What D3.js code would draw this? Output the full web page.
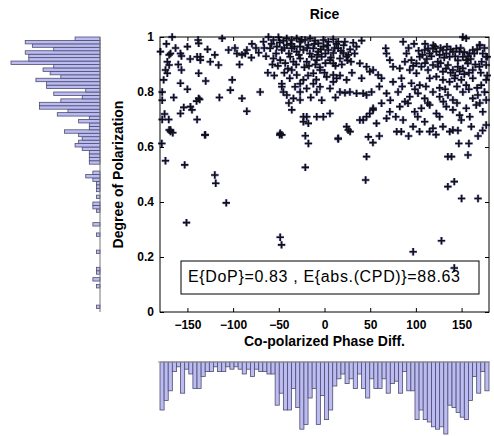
<!DOCTYPE html>
<html>
<head>
<meta charset="utf-8">
<script src="https://cdn.jsdelivr.net/npm/d3@7"></script>
<style>
body { margin: 0; background: #fff; }
text { font-family: Arial, "Liberation Sans", sans-serif; }
</style>
</head>
<body>
<div id="figure-container"></div>
<script>
var xTicks = [-150, -100, -50, 0, 50, 100, 150];
var yTicks = [0, 0.2, 0.4, 0.6, 0.8, 1];

// 80 bins of co-polarized phase difference, -180..180
var phaseCounts = [20,16,12,4,2,13,3,5,11,11, 6,4,4,2,4,4,2,3,2,3,
  5,3,6,3,4,4,5,5,18,13, 20,20,11,19,28,26,15,11,26,14,
  24,20,10,7,5,9,7,11,5,11, 15,7,11,11,7,13,9,8,13,4,
  12,12,24,20,24,25,27,28,27,30, 18,19,21,23,24,16,6,13,4,12];

// 80 bins of degree of polarization, 0..1
var dopCounts = [0,1,0,0,0,0,0,1,0,2, 0,1,1,0,0,0,0,1,0,0,
  0,0,1,0,0,2,0,0,0,1, 2,2,0,1,0,1,1,1,2,4,
  2,0,0,3,3,3,3,5,7,6, 5,6,10,3,3,6,3,12,9,17,
  17,11,5,13,4,15,15,18,11,14, 16,13,25,20,20,21,13,19,21,7];

// [phase diff (deg), DoP]
var ricePoints = [
  [-179.5,.947],[-173,.975],[-170,.935],[-168.5,.94],[-172,.91],[-170,.898],[-174,.88],[-172,.868],
  [-176,.844],[-177.6,.80],[-177.6,.77],[-177.6,.70],[-170.4,.70],[-170,.662],[-168.5,.662],[-166.7,1.0],
  [-157.6,.94],[-156.5,.931],[-156.5,.88],[-157.6,.832],[-157.6,.722],[-154,.744],[-146.7,.747],[-145,.735],
  [-140,.767],[-137.7,.777],[-136.6,.773],[-139.4,.70],[-138.3,.989],[-137.7,.977],[-139.4,.928],[-135.8,.928],
  [-135.8,.916],[-137.7,.868],[-130.4,.644],[-125,.91],[-115.9,.898],[-112,.995],[-105,.953],[-101,.844],
  [-103,.807],[-90.3,.777],[-95.8,.94],[-90.3,.935],[-86.7,.94],[-84.9,.953],[-79.4,.975],[-70.4,.80],
  [-66.8,.983],[-72,.943],
  [-163,.96],[-160,.90],[-150,.965],[-147,.92],[-128,.955],[-120,.935],[-98,.96],[-93,.90],[-80,.925],
  [-75,.96],[-165,.78],[-150,.81],[-130,.84],[-115,.78],[-85,.73],[-175,.72],
  [-178,.613],[-174,.55],[-168.5,.656],[-166,.652],[-153,.535],[-151,.325],[-131,.644],[-120,.498],
  [-119,.468],[-107.5,.397],[-49,.644],[-48.5,.272],[-47,.244],[-21,.641],[-21,.526],[-17.6,.613],
  [15,.629],[28,.656],[46,.565],[48,.637],[45,.48],[53,.616],[79,.656],[84,.656],[97,.219],[104,.656],
  [115,.656],[128,.259],[135,.456],[135,.565],[139,.565],[137,.656],[142,.474],[147,.613],[150,.413],
  [157,.571],[158,.613],[168,.413],[146,.66],[173,.66],[142,.16],
  [-61.3,1.0],[-55.9,.989],[-50.4,.999],[-45,.987],[-41.3,.995],[-35.8,.989],[-30.4,.995],[-26.7,.983],
  [-21.3,.989],[-15.8,.995],[-10.4,.987],[-6.7,.977],[-1.3,.989],[4.1,.983],[9.5,.992],[15,.983],
  [22.3,.983],[31.4,.979],
  [-59.5,.959],[-52.1,.965],[-46.7,.953],[-41.2,.971],[-35.8,.959],[-30.4,.947],[-26.7,.965],[-23.1,.953],
  [-17.7,.971],[-12.2,.959],[-6.8,.947],[-1.3,.965],[4.1,.953],[9.6,.942],[15,.959],[20.5,.942],[26,.935],
  [-55.9,.922],[-48.5,.916],[-37.6,.928],[-34,.91],[-26.7,.922],[-19.4,.91],[-14,.928],[-8.5,.916],
  [-3.1,.928],[6,.916],[9.6,.904],[16.9,.922],[24.2,.928],
  [-58,.975],[-53,.94],[-49,.98],[-44,.96],[-39,.94],[-37,.975],[-33,.965],[-28,.935],[-25,.99],
  [-19,.96],[-16,.94],[-11,.975],[-8,.935],[-4,.955],[1,.94],[3,.97],[7,.925],[11,.96],[13,.975],
  [18,.95],[21,.97],[25,.915],[28,.955],[33,.94],[35,.965],[-57,.90],[-51,.895],[-43,.905],[-40,.885],
  [-31,.90],[-22,.89],[-17,.895],[-10,.90],[-5,.89],[1,.905],[12,.895],[19,.90],[29,.91],[-44,.87],
  [-38,.85],[-18,.86],[-9,.845],[0,.87],[17,.86],[30,.87],[-15,.78],[-3,.77],[12,.78],[-39,.76],
  [-55,.86],[-64,.93],[-66,.96],[-62,.87],
  [-35.8,.88],[-30.3,.862],[-23.1,.844],[-12.2,.868],[-4.9,.88],[2.4,.855],[9.6,.862],[-32.2,.819],
  [-26.7,.83],[-12.2,.83],[-19.5,.813],[-4.9,.819],[9.6,.837],[13.3,.85],[24.2,.844],[-26.7,.80],
  [-8.5,.80],[6,.813],[-46.7,.819],[-45,.80],[-41.2,.789],[-34,.777],[-26.7,.771],[-46.7,.83],
  [-35.8,.735],[-23.1,.71],[-19.4,.71],[-8.5,.71],[-1.3,.71],[6,.722],[-23.1,.692],[-17.7,.686],
  [-48.5,.65],[-46.7,.644],
  [16.9,.80],[22.4,.797],[27.8,.80],[35.1,.795],[42.3,.795],[46,.789],[51.5,.80],
  [15,.632],[24.2,.674],[26,.662],[38.7,.698],[46,.71],[49.6,.722],[53.2,.735],
  [40.6,.85],[49.6,.874],[53.2,.88],[58.7,.862],[62.4,.85],[38.7,.904],[46,.892],
  [40.6,.987],[67,.959],[67.8,.94],[71.5,.916],[75,.892],[86,.983],[110,.975],[119,.97],
  [151.4,1.0],[155,.995],[170,.97],[178,.928],
  [89.7,.94],[95.1,.916],[100.6,.904],[104.2,.928],[109.7,.953],[113.3,.958],[115.1,.94],[118.7,.958],
  [122.4,.947],[126,.935],[129.6,.953],[133.3,.94],[136.9,.928],[140.5,.947],[144.2,.958],[147.8,.947],
  [151.4,.928],[155.1,.916],[158.7,.94],[162.3,.953],[169.6,.971],[173.2,.94],[176.9,.928],
  [92,.96],[98,.975],[103,.95],[107,.935],[112,.92],[117,.93],[121,.965],[124,.91],[127,.96],
  [131,.925],[134,.965],[138,.955],[143,.93],[146,.915],[149,.96],[153,.945],[157,.93],[160,.92],
  [164,.94],[167,.955],[172,.91],[175,.96],[88,.91],[97,.895],[110,.905],[127,.905],[133,.885],
  [138,.87],[143,.86],[148,.875],[153,.865],[158,.87],[165,.90],[171,.87],[178,.86],
  [82.4,.886],[93.3,.88],[100.6,.868],[106,.892],[113.3,.88],[118.7,.898],[124.2,.892],[129.6,.874],
  [135.1,.898],[140.5,.88],[145.9,.892],[151.4,.886],[156.9,.904],[162.3,.88],[169.6,.892],[176.9,.898],
  [75,.837],[84.2,.85],[95.1,.832],[104.2,.825],[115.1,.85],[122.4,.856],[129.6,.844],[136.9,.837],
  [142.4,.85],[149.7,.844],[155.1,.825],[162.3,.85],[171.5,.825],[176.9,.844],
  [85,.82],[99,.81],[111,.82],[126,.815],[132,.81],[145,.82],[158,.81],[167,.815],[60,.82],
  [67.9,.795],[80.5,.80],[93.3,.783],[102.3,.795],[109.6,.777],[118.7,.80],[126,.783],[135.1,.789],
  [140.5,.771],[151.4,.80],[162.3,.777],[167.8,.789],[175.1,.80],[176.9,.771],
  [72,.77],[88,.765],[113,.76],[130,.765],[145,.76],[170,.76],
  [53.2,.741],[62.4,.759],[71.5,.728],[82.4,.747],[91.4,.759],[98.7,.728],[106,.741],[115.1,.753],
  [122.4,.722],[133.3,.747],[140.5,.735],[147.8,.716],[155.1,.741],[166,.753],[173.2,.728],
  [78,.71],[102,.71],[126,.71],[159,.71],
  [42.3,.698],[56.9,.686],[67.9,.704],[86,.698],[96.9,.674],[109.6,.692],[118.7,.668],[129.6,.674],
  [140.5,.662],[149.7,.698],[160.6,.674],[176.9,.68],[60,.64],[92,.64],[122,.645],[168,.64]
];

var fullWidth = 494;
var fullHeight = 436;
var plot = {left: 160, right: 489, top: 37, bottom: 312};

var xScale = d3.scaleLinear().domain([-180, 180]).range([plot.left, plot.right]);
var yScale = d3.scaleLinear().domain([0, 1]).range([plot.bottom, plot.top]);

var phaseBinW = 360 / phaseCounts.length;
var dopBinH = 1 / dopCounts.length;

// bottom histogram hangs down from y=362, left one grows left from x=100
var phaseHistScale = d3.scaleLinear().domain([0, 30]).range([362, 434]);
var dopHistScale = d3.scaleLinear().domain([0, 25]).range([100, 11]);

var svg = d3.select('#figure-container')
  .append('svg')
  .attr('width', fullWidth)
  .attr('height', fullHeight)
  .style('display', 'block')
  .style('background', '#fff');

var barFill = '#bcbcf2';
var barEdge = '#4d4d70';

// left histogram (DoP)
svg.append('g')
  .attr('class', 'dop-hist')
  .selectAll('rect')
  .data(dopCounts)
  .enter()
    .append('rect')
    .attr('x', function(d) { return dopHistScale(d); })
    .attr('y', function(d, i) { return yScale((i + 1) * dopBinH); })
    .attr('width', function(d) { return dopHistScale(0) - dopHistScale(d); })
    .attr('height', function(d, i) { return yScale(i * dopBinH) - yScale((i + 1) * dopBinH); })
    .attr('fill', barFill)
    .attr('stroke', barEdge)
    .attr('stroke-width', 0.8)
    .style('display', function(d) { return d > 0 ? null : 'none'; });

svg.append('line')
  .attr('x1', dopHistScale(0)).attr('x2', dopHistScale(0))
  .attr('y1', plot.top).attr('y2', plot.bottom)
  .attr('stroke', '#777').attr('stroke-width', 1);

// bottom histogram (phase)
svg.append('g')
  .attr('class', 'phase-hist')
  .selectAll('rect')
  .data(phaseCounts)
  .enter()
    .append('rect')
    .attr('x', function(d, i) { return xScale(-180 + i * phaseBinW); })
    .attr('y', phaseHistScale(0))
    .attr('width', function(d, i) { return xScale(-180 + (i + 1) * phaseBinW) - xScale(-180 + i * phaseBinW); })
    .attr('height', function(d) { return phaseHistScale(d) - phaseHistScale(0); })
    .attr('fill', barFill)
    .attr('stroke', barEdge)
    .attr('stroke-width', 0.8);

svg.append('line')
  .attr('x1', plot.left - 2).attr('x2', plot.right + 1)
  .attr('y1', phaseHistScale(0)).attr('y2', phaseHistScale(0))
  .attr('stroke', '#999').attr('stroke-width', 1);

// scatter
var plus = 'M-3.7,0H3.7M0,-3.7V3.7';
var pts = svg.append('g').attr('class', 'points');
pts.selectAll('path.halo')
  .data(ricePoints)
  .enter()
    .append('path')
    .attr('class', 'halo')
    .attr('d', plus)
    .attr('transform', function(d) { return 'translate(' + xScale(d[0]) + ',' + yScale(d[1]) + ')'; })
    .attr('stroke', '#5a5ad8')
    .attr('stroke-width', 2.8)
    .attr('stroke-opacity', 0.5)
    .attr('fill', 'none');
pts.selectAll('path.mark')
  .data(ricePoints)
  .enter()
    .append('path')
    .attr('class', 'mark')
    .attr('d', plus)
    .attr('transform', function(d) { return 'translate(' + xScale(d[0]) + ',' + yScale(d[1]) + ')'; })
    .attr('stroke', '#111')
    .attr('stroke-width', 1.6)
    .attr('fill', 'none');

// axes, matlab style with inward ticks on all four sides
var xAxis = d3.axisBottom(xScale).tickValues(xTicks).tickSize(-4).tickPadding(8);
var yAxis = d3.axisLeft(yScale).tickValues(yTicks).tickSize(-4).tickPadding(6)
  .tickFormat(function(d) { return d === 0 || d === 1 ? d : d.toFixed(1); });

svg.append('g')
  .attr('class', 'axis x')
  .attr('transform', 'translate(0,' + plot.bottom + ')')
  .call(xAxis);
svg.append('g')
  .attr('class', 'axis x-top')
  .attr('transform', 'translate(0,' + plot.top + ')')
  .call(d3.axisTop(xScale).tickValues(xTicks).tickSize(-4).tickFormat(''));
svg.append('g')
  .attr('class', 'axis y')
  .attr('transform', 'translate(' + plot.left + ',0)')
  .call(yAxis);
svg.append('g')
  .attr('class', 'axis y-right')
  .attr('transform', 'translate(' + plot.right + ',0)')
  .call(d3.axisRight(yScale).tickValues(yTicks).tickSize(-4).tickFormat(''));

svg.selectAll('.axis .domain').remove();
svg.selectAll('.axis line').attr('stroke', '#000');
svg.selectAll('.axis text')
  .attr('fill', '#000')
  .style('font-size', '12px')
  .style('font-weight', 'bold')
  .style('font-family', 'Arial, "Liberation Sans", sans-serif');

svg.append('rect')
  .attr('x', plot.left)
  .attr('y', plot.top)
  .attr('width', plot.right - plot.left)
  .attr('height', plot.bottom - plot.top)
  .attr('fill', 'none')
  .attr('stroke', '#000')
  .attr('stroke-width', 1);

// stats box
svg.append('rect')
  .attr('x', 181).attr('y', 261)
  .attr('width', 298).attr('height', 33)
  .attr('fill', 'none')
  .attr('stroke', '#000')
  .attr('stroke-width', 1);
svg.append('text')
  .attr('x', 188).attr('y', 282)
  .attr('textLength', 272)
  .attr('lengthAdjust', 'spacing')
  .attr('fill', '#000')
  .style('font-size', '16px')
  .text('E{DoP}=0.83 , E{abs.(CPD)}=88.63');

// titles
svg.append('text')
  .attr('x', (plot.left + plot.right) / 2).attr('y', 19)
  .attr('text-anchor', 'middle')
  .style('font-size', '14px').style('font-weight', 'bold')
  .text('Rice');
svg.append('text')
  .attr('x', (plot.left + plot.right) / 2).attr('y', 346)
  .attr('text-anchor', 'middle')
  .style('font-size', '14px').style('font-weight', 'bold')
  .text('Co-polarized Phase Diff.');
svg.append('text')
  .attr('transform', 'translate(123,' + yScale(0.5) + ') rotate(-90)')
  .attr('text-anchor', 'middle')
  .style('font-size', '14px').style('font-weight', 'bold')
  .text('Degree of Polarization');
</script>
</body>
</html>
